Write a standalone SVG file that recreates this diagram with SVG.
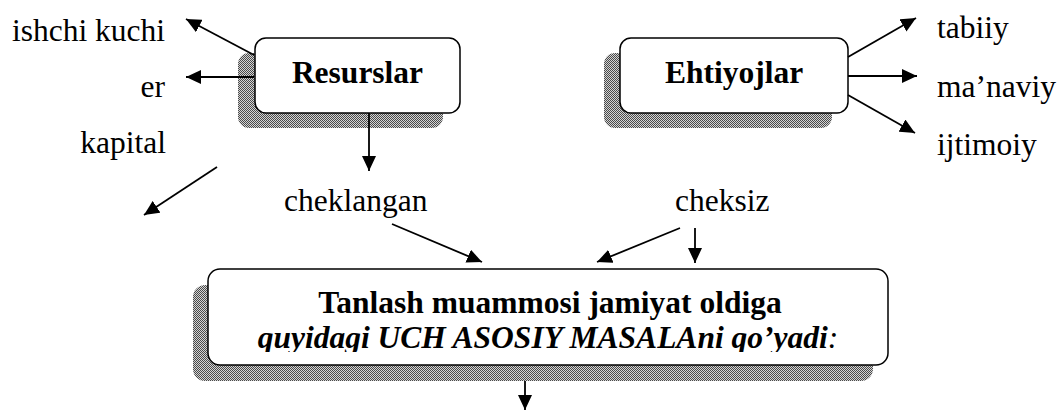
<svg xmlns="http://www.w3.org/2000/svg" width="1059" height="410" viewBox="0 0 1059 410">
<style>
text{font-family:"Liberation Serif","Times New Roman",serif;font-size:31.5px;fill:#000}
.b{font-weight:bold}
.bi{font-weight:bold;font-style:italic}
.box{fill:#fff;stroke:#000;stroke-width:1.5}
.sh{fill:url(#dots)}
.c{stroke:#000;stroke-width:1.8;fill:none;marker-end:url(#ah)}
</style>
<defs>
<pattern id="dots" width="2" height="2" patternUnits="userSpaceOnUse"><rect width="2" height="2" fill="#d4d4d4"/><rect width="1" height="1" fill="#4a4a4a"/><rect x="1" y="1" width="1" height="1" fill="#4a4a4a"/></pattern>
<marker id="ah" markerUnits="userSpaceOnUse" markerWidth="16" markerHeight="14" refX="15" refY="7" orient="auto" viewBox="0 0 16 14"><path d="M0,0 L15,7 L0,14 z" fill="#000"/></marker>
<clipPath id="clipMain"><rect x="208" y="269" width="680" height="83"/></clipPath>
</defs>
<rect width="1059" height="410" fill="#fff"/>
<g id="resurslar">
<rect class="sh" x="238" y="53" width="205" height="75" rx="11"/>
<rect class="box" x="255" y="38" width="205" height="75" rx="11"/>
<text class="b" x="357.5" y="83" text-anchor="middle">Resurslar</text>
</g>
<g id="ehtiyojlar">
<rect class="sh" x="604" y="53" width="228" height="75" rx="11"/>
<rect class="box" x="620" y="38" width="228" height="75" rx="11"/>
<text class="b" x="734" y="83" text-anchor="middle">Ehtiyojlar</text>
</g>
<g id="tanlash">
<rect class="sh" x="193" y="285" width="680" height="96" rx="12"/>
<rect class="box" x="208" y="269" width="680" height="96" rx="12"/>
<text class="b" x="550" y="313" text-anchor="middle">Tanlash muammosi jamiyat oldiga</text>
<g clip-path="url(#clipMain)">
<text class="bi" x="548" y="348" text-anchor="middle">quyidagi UCH ASOSIY MASALAni qo’yadi<tspan font-weight="normal">:</tspan></text>
</g>
</g>
<g id="ishchi-kuchi"><text x="165" y="41" text-anchor="end">ishchi kuchi</text></g>
<g id="er"><text x="165" y="97" text-anchor="end">er</text></g>
<g id="kapital"><text x="166" y="153" text-anchor="end">kapital</text></g>
<g id="cheklangan"><text x="284" y="211">cheklangan</text></g>
<g id="cheksiz"><text x="675" y="211">cheksiz</text></g>
<g id="tabiiy"><text x="937" y="38">tabiiy</text></g>
<g id="manaviy"><text x="937" y="97">ma’naviy</text></g>
<g id="ijtimoiy"><text x="937" y="155">ijtimoiy</text></g>
<g id="connectors">
<line class="c" x1="254" y1="55" x2="186" y2="19"/>
<line class="c" x1="254" y1="77" x2="186" y2="77"/>
<line class="c" x1="217" y1="167" x2="144" y2="215"/>
<line class="c" x1="369" y1="113" x2="369" y2="171"/>
<line class="c" x1="848" y1="57" x2="916" y2="18"/>
<line class="c" x1="848" y1="76" x2="917" y2="76"/>
<line class="c" x1="848" y1="95" x2="915" y2="133"/>
<line class="c" x1="392" y1="224" x2="482" y2="262"/>
<line class="c" x1="680" y1="228" x2="597" y2="262"/>
<line class="c" x1="695" y1="228" x2="695" y2="263"/>
<line class="c" x1="525" y1="381" x2="525" y2="410"/>
</g>
</svg>
